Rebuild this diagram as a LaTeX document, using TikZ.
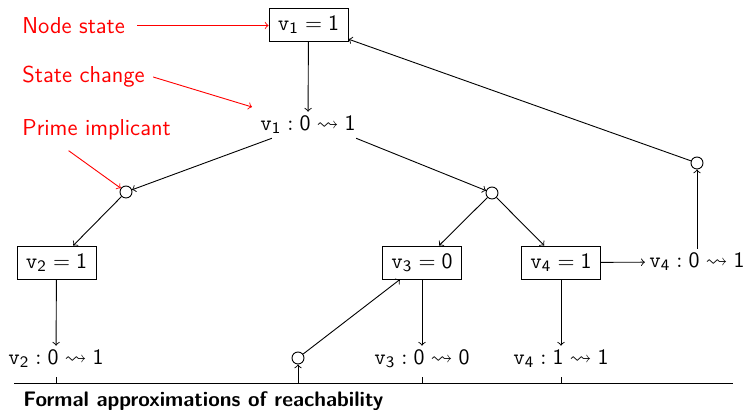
\documentclass[tikz,border=0pt]{standalone}
\usepackage{amssymb}
\newcommand{\vv}[1]{\mathtt{v}_{\mathsf{#1}}}
\newcommand{\dd}[1]{\mathsf{#1}}
\begin{document}
\begin{tikzpicture}[x=0.5pt,y=-0.5pt,
  every node/.style={font=\sffamily\fontsize{11}{13}\selectfont},
  stbox/.style={draw,inner sep=0pt,minimum width=39.5pt,minimum height=16.5pt},
  chg/.style={inner sep=2pt},
  pimp/.style={draw,circle,inner sep=0pt,minimum size=6pt},
  ann/.style={font=\sffamily\fontsize{11.5}{13}\selectfont,text=red},
  annarr/.style={red,->},
  arr/.style={->},
  line width=0.45pt]
\useasboundingbox (0,0) rectangle (746,410);
% nodes
\node[stbox] (n1) at (308.5,25) {$\vv{1} = \dd{1}$};
\node[chg] (c1) at (308,125) {$\vv{1} : \dd{0} \leadsto \dd{1}$};
\node[pimp] (p1) at (126,192) {};
\node[pimp] (p2) at (492,193) {};
\node[pimp] (p3) at (697,163) {};
\node[stbox] (n2) at (56.5,262.5) {$\vv{2} = \dd{1}$};
\node[stbox] (n3) at (422,262.5) {$\vv{3} = \dd{0}$};
\node[stbox] (n4) at (561,262.5) {$\vv{4} = \dd{1}$};
\node[chg] (c4a) at (697,262) {$\vv{4} : \dd{0} \leadsto \dd{1}$};
\node[chg] (c2) at (56,359) {$\vv{2} : \dd{0} \leadsto \dd{1}$};
\node[chg] (c3) at (422,359) {$\vv{3} : \dd{0} \leadsto \dd{0}$};
\node[chg] (c4b) at (561,359) {$\vv{4} : \dd{1} \leadsto \dd{1}$};
\node[pimp] (p4) at (298,358) {};
% axis
\coordinate (al) at (14,383);
\coordinate (ar) at (733,383);
\coordinate (t1) at (56,383);
\coordinate (t2) at (298,383);
\coordinate (t3) at (422,383);
\coordinate (t4) at (561,383);
\draw (al) -- (ar);
\draw (t1) -- ++(0,-6);
\draw (t3) -- ++(0,-6);
\draw (t4) -- ++(0,-6);
\draw[arr] (t2) -- (p4);
\node[anchor=west,inner sep=0pt,font=\sffamily\bfseries\fontsize{10.5}{12}\selectfont] (lab) at (23,401) {Formal approximations of reachability};
% connectors
\draw[arr] (n1) -- (c1);
\draw[arr] ([xshift=8pt]c1.south west) -- (p1);
\draw[arr] ([xshift=-2pt]c1.south east) -- (p2);
\draw[arr] (p3) -- (n1);
\draw[arr] (c4a) -- (p3);
\draw[arr] (p1) -- (n2);
\draw[arr] (p2) -- (n3);
\draw[arr] (p2) -- (n4);
\draw[arr] (n4) -- (c4a);
\draw[arr] (n2) -- (c2);
\draw[arr] (n3) -- (c3);
\draw[arr] (n4) -- (c4b);
\draw[arr] (p4) -- (n3);
% annotations
\node[ann,anchor=west,inner sep=0pt] (a1) at (22,25.5) {Node state};
\node[ann,anchor=west,inner sep=0pt] (a2) at (22,77) {State change};
\node[ann,anchor=west,inner sep=0pt] (a3) at (22,130) {Prime implicant};
\coordinate (e2) at (252,107);
\draw[annarr] ([xshift=6pt]a1.east) -- (n1.west |- a1.east);
\draw[annarr] ([xshift=4pt]a2.east) -- (e2);
\draw[annarr] ([xshift=-14pt,yshift=-5pt]a3.south) -- (p1);
\end{tikzpicture}
\end{document}
